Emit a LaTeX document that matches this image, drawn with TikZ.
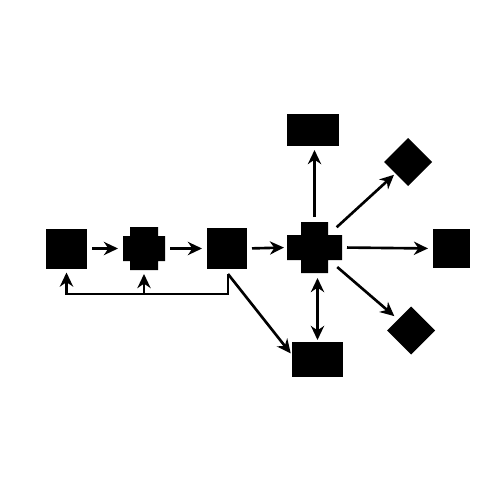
\documentclass[tikz,border=0pt]{standalone}
\usetikzlibrary{arrows.meta,shapes.geometric}
\newlength\pxu
\setlength\pxu{0.02cm}
\newcommand\crossfill[3]{%
  \fill ([xshift=#2]#1.north west) -- ([xshift=-#2]#1.north east)
   -- ([xshift=-#2,yshift=-#3]#1.north east) -- ([yshift=-#3]#1.north east)
   -- ([yshift=#3]#1.south east) -- ([xshift=-#2,yshift=#3]#1.south east)
   -- ([xshift=-#2]#1.south east) -- ([xshift=#2]#1.south west)
   -- ([xshift=#2,yshift=#3]#1.south west) -- ([yshift=#3]#1.south west)
   -- ([yshift=-#3]#1.north west) -- ([xshift=#2,yshift=-#3]#1.north west)
   -- cycle;}
\begin{document}
\begin{tikzpicture}[x=\pxu,y=-\pxu,
  box/.style={rectangle, fill=black, draw=none, inner sep=0pt, outer sep=0pt},
  crossbox/.style={rectangle, draw=none, inner sep=0pt, outer sep=0pt},
  dia/.style={diamond, fill=black, draw=none, inner sep=0pt, outer sep=0pt,
    minimum width=48\pxu, minimum height=48\pxu},
  tip/.style={Stealth[length=8pt,width=7.5pt,inset=2.5pt]},
  arr/.style={-{Stealth[length=8pt,width=7.5pt,inset=2.5pt]}, line width=1.5pt},
  dblarr/.style={{Stealth[length=8pt,width=7.5pt,inset=2.5pt]}-{Stealth[length=8pt,width=7.5pt,inset=2.5pt]}, line width=1.5pt},
  line/.style={line width=1.5pt}]
\useasboundingbox (0,0) rectangle (500,500);

% nodes
\node[box, minimum width=41\pxu, minimum height=40\pxu] (A) at (66.5,248.5) {};
\node[crossbox, minimum width=42\pxu, minimum height=43\pxu] (B) at (144,248.5) {};
\crossfill{B}{7\pxu}{9\pxu}
\node[box, minimum width=40\pxu, minimum height=41\pxu] (C) at (227,248.5) {};
\node[crossbox, minimum width=55\pxu, minimum height=51\pxu] (D) at (314.5,247.5) {};
\crossfill{D}{14\pxu}{13\pxu}
\node[box, minimum width=52\pxu, minimum height=32\pxu] (E) at (313,130) {};
\node[dia] (F) at (408,162) {};
\node[box, minimum width=37\pxu, minimum height=39\pxu] (G) at (451.5,248.5) {};
\node[box, minimum width=51\pxu, minimum height=35\pxu] (H) at (317.5,359.5) {};
\node[dia] (I) at (411,330.5) {};

\coordinate (c1) at (228,274);
\coordinate (fb) at (228,294);

% main row
\draw[arr, shorten <=5\pxu, shorten >=5\pxu] (A.east) -- (B.west);
\draw[arr, shorten <=5\pxu, shorten >=5\pxu] (B.east) -- (C.west);
\draw[arr, shorten <=5\pxu, shorten >=3\pxu] (C.east) -- (D.west);

% from the centre cross
\draw[arr, shorten <=5\pxu, shorten >=4\pxu] (D.north) -- (D.north |- E.south);
\draw[arr, shorten <=30\pxu, shorten >=2\pxu] (D.center) -- (F);
\draw[arr, shorten <=5\pxu, shorten >=5\pxu] (D.east) -- (G.west);
\draw[arr, shorten <=30\pxu, shorten >=5\pxu] (D.center) -- (I);
\draw[dblarr, shorten <=5\pxu, shorten >=2\pxu] (D.south -| H.north) -- (H.north);

% feedback and branch to bottom box
\draw[arr, shorten >=4\pxu] (c1) -- (fb) -| (A.south);
\draw[arr, shorten >=4\pxu] (B.south |- fb) -- (B.south);
\draw[arr, shorten >=2\pxu] (c1) -- (H.170);
\end{tikzpicture}
\end{document}
